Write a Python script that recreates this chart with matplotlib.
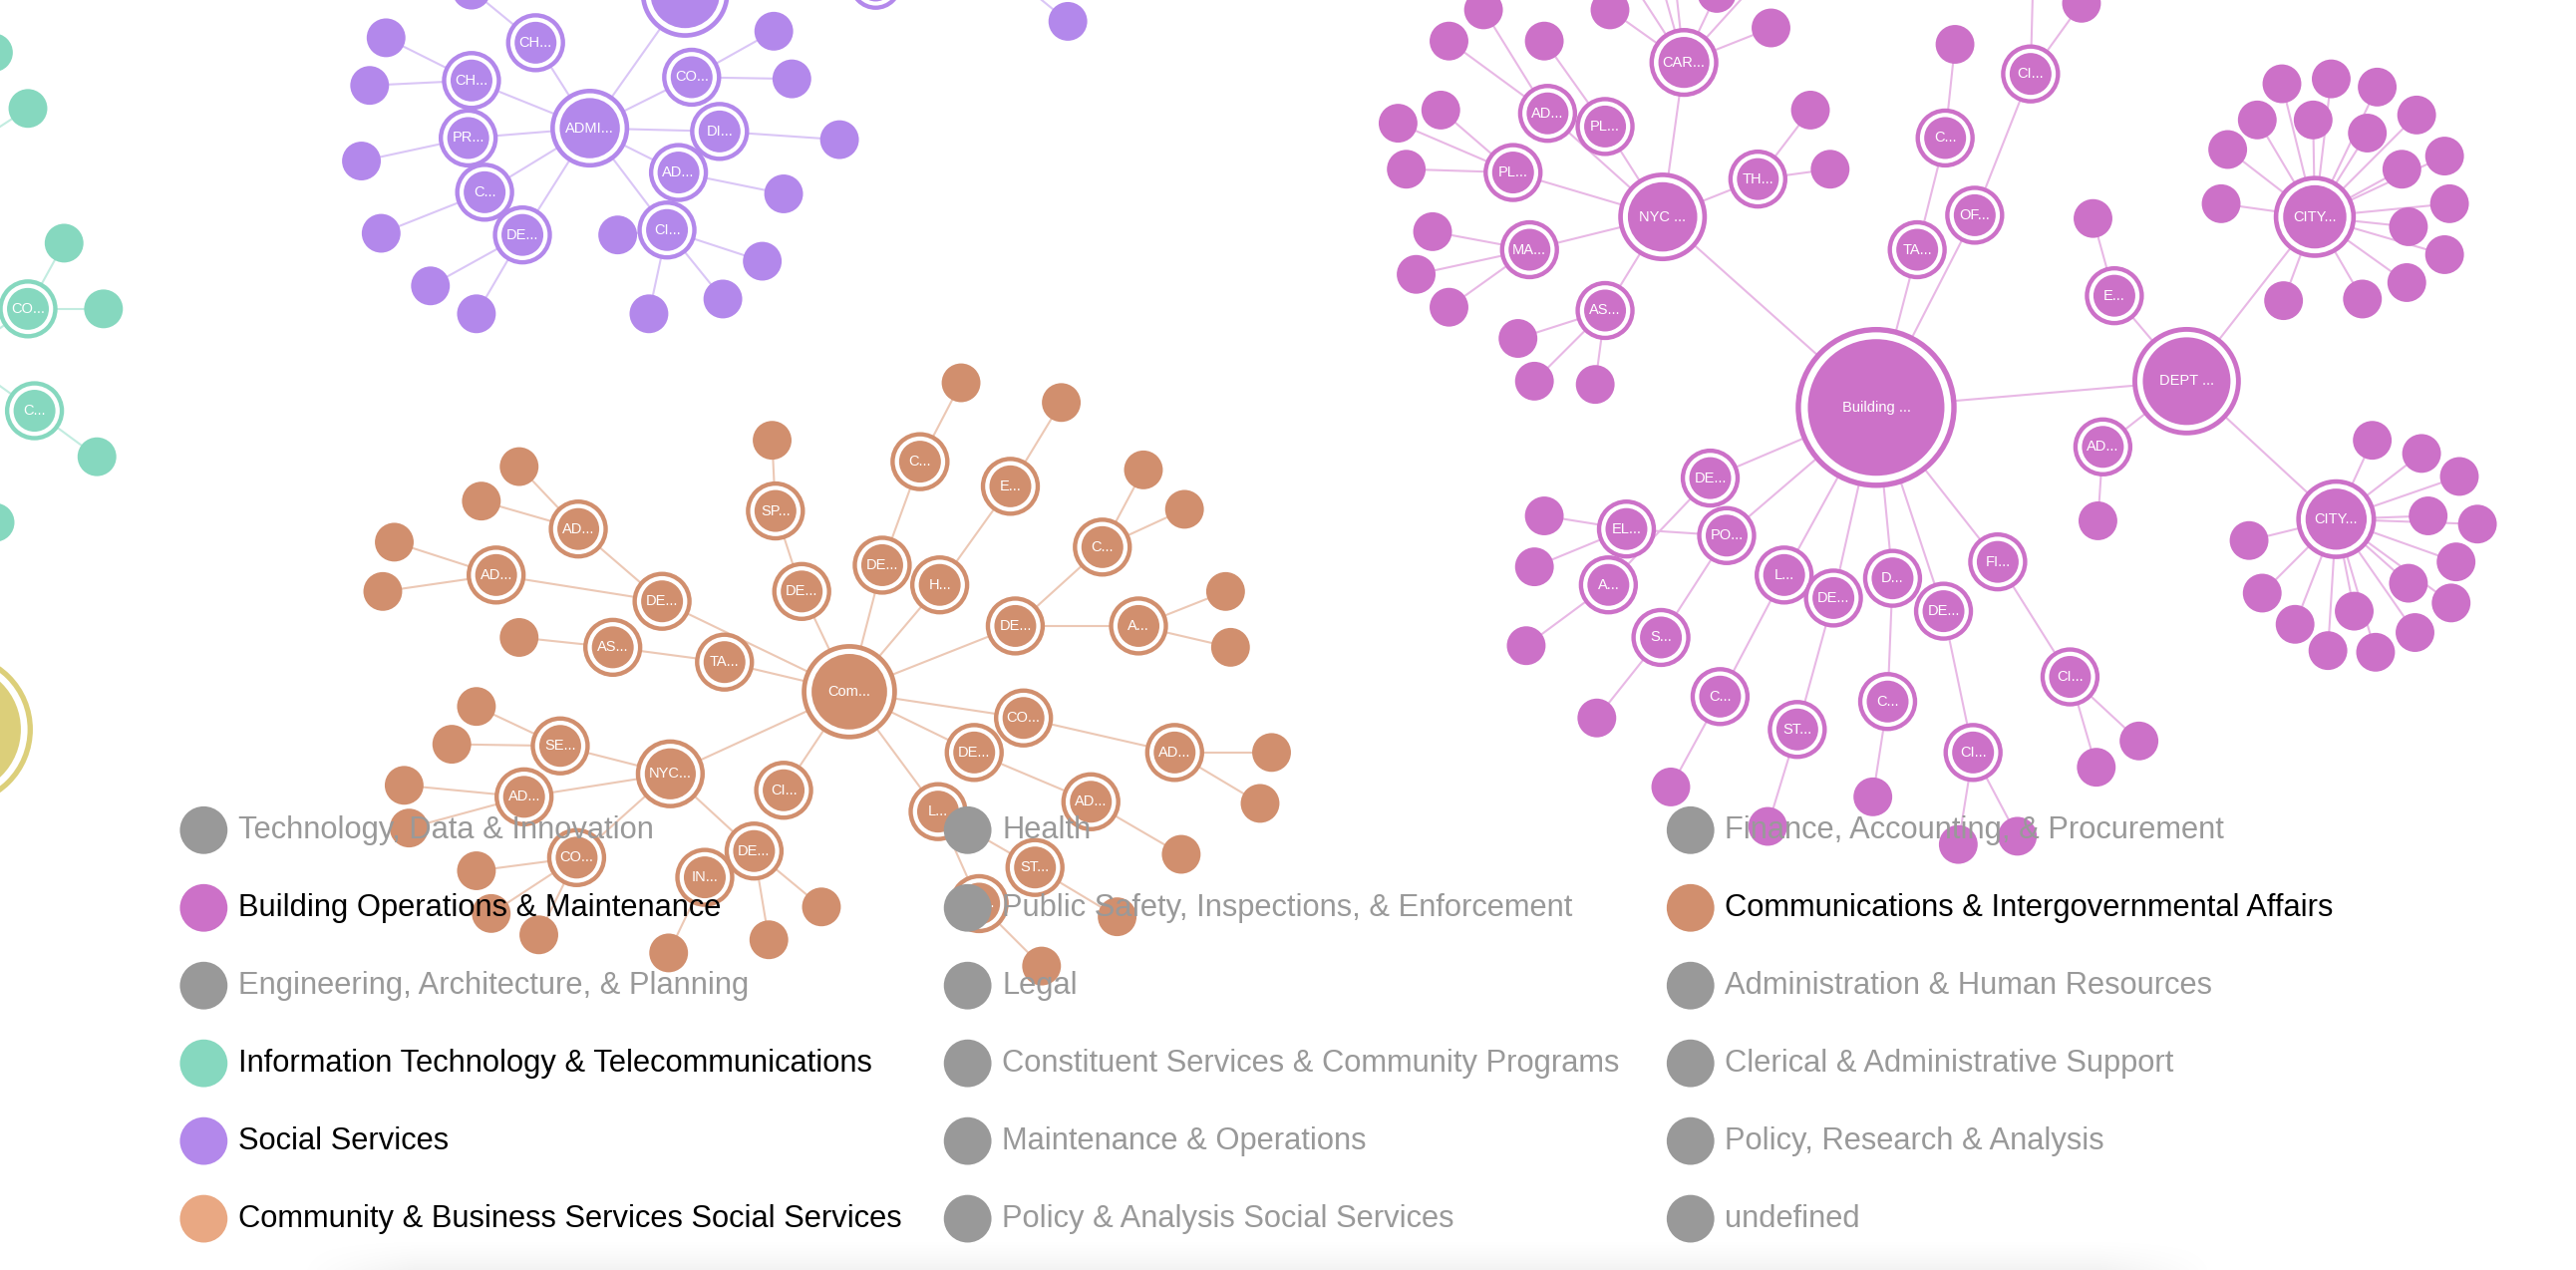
import numpy as np
import matplotlib.pyplot as plt
from matplotlib.patches import Circle

# canvas in layout units (the force layout's own coordinates)
W, H = 1568, 773

# ---------------------------------------------------------------- data ----
# ring nodes: (key, label, x, y, parent)   leaves: (x, y, parent)

building_nodes = [
    ("bld", "Building ...", 1142, 248, None),
    ("dept", "DEPT ...", 1331, 232, "bld"),
    ("nyc", "NYC ...", 1012, 132, "bld"),
    ("car", "CAR...", 1025, 38, "nyc"),
    ("ad1", "AD...", 942, 69, "nyc"),
    ("pl1", "PL...", 977, 77, "nyc"),
    ("pl2", "PL...", 921, 105, "nyc"),
    ("ma", "MA...", 931, 152, "nyc"),
    ("as", "AS...", 977, 189, "nyc"),
    ("th", "TH...", 1070, 109, "nyc"),
    ("of", "OF...", 1202, 131, "bld"),
    ("ci1", "CI...", 1236, 45, "of"),
    ("ta", "TA...", 1167, 152, "bld"),
    ("c1", "C...", 1184, 84, "ta"),
    ("e", "E...", 1287, 180, "dept"),
    ("ad2", "AD...", 1280, 272, "dept"),
    ("city1", "CITY...", 1409, 132, "dept"),
    ("city2", "CITY...", 1422, 316, "dept"),
    ("de1", "DE...", 1041, 291, "bld"),
    ("po", "PO...", 1051, 326, "bld"),
    ("el", "EL...", 990, 322, "po"),
    ("a", "A...", 979, 356, "de1"),
    ("s", "S...", 1011, 388, "po"),
    ("l", "L...", 1086, 350, "bld"),
    ("de2", "DE...", 1116, 364, "bld"),
    ("d", "D...", 1152, 352, "bld"),
    ("de3", "DE...", 1183, 372, "bld"),
    ("fi", "FI...", 1216, 342, "bld"),
    ("c2", "C...", 1047, 424, "l"),
    ("st", "ST...", 1094, 444, "de2"),
    ("c3", "C...", 1149, 427, "d"),
    ("ci2", "CI...", 1201, 458, "de3"),
    ("ci3", "CI...", 1260, 412, "fi"),
]
building_leaves = [
    (980, 6, "car"), (1078, 17, "car"), (990, -16, "car"), (1008, -22, "car"),
    (1018, -26, "car"), (1045, -4, "car"), (1073, -15, "car"),
    (903, 6, "ad1"), (882, 25, "ad1"),
    (940, 25, "pl1"),
    (851, 75, "pl2"), (877, 67, "pl2"), (856, 103, "pl2"),
    (872, 141, "ma"), (862, 167, "ma"), (882, 187, "ma"),
    (924, 206, "as"), (934, 232, "as"), (971, 234, "as"),
    (1102, 67, "th"), (1114, 103, "th"),
    (1267, 2, "ci1"), (1238, -30, "ci1"),
    (1190, 27, "c1"),
    (1274, 133, "e"),
    (1277, 317, "ad2"),
    (1389, 51, "city1"), (1419, 48, "city1"), (1447, 53, "city1"),
    (1471, 70, "city1"), (1374, 73, "city1"), (1408, 73, "city1"),
    (1441, 81, "city1"), (1356, 91, "city1"), (1462, 103, "city1"),
    (1488, 95, "city1"), (1352, 124, "city1"), (1491, 124, "city1"),
    (1466, 138, "city1"), (1488, 155, "city1"), (1465, 172, "city1"),
    (1390, 183, "city1"), (1438, 182, "city1"),
    (1444, 268, "city2"), (1474, 276, "city2"), (1497, 290, "city2"),
    (1369, 329, "city2"), (1478, 314, "city2"), (1508, 319, "city2"),
    (1495, 342, "city2"), (1377, 361, "city2"), (1466, 355, "city2"),
    (1492, 367, "city2"), (1397, 380, "city2"), (1433, 372, "city2"),
    (1470, 385, "city2"), (1417, 396, "city2"), (1446, 397, "city2"),
    (940, 314, "el"), (934, 345, "el"),
    (929, 393, "a"),
    (972, 437, "s"),
    (1017, 479, "c2"),
    (1076, 503, "st"),
    (1140, 485, "c3"),
    (1192, 514, "ci2"), (1228, 509, "ci2"),
    (1276, 467, "ci3"), (1302, 451, "ci3"),
]

comms_nodes = [
    ("com", "Com...", 517, 421, None),
    ("ta", "TA...", 441, 403, "com"),
    ("as", "AS...", 373, 394, "ta"),
    ("de1", "DE...", 403, 366, "com"),
    ("ad1", "AD...", 352, 322, "de1"),
    ("ad2", "AD...", 302, 350, "de1"),
    ("de2", "DE...", 488, 360, "com"),
    ("sp", "SP...", 472, 311, "de2"),
    ("de3", "DE...", 537, 344, "com"),
    ("c1", "C...", 560, 281, "de3"),
    ("h", "H...", 572, 356, "com"),
    ("e", "E...", 615, 296, "h"),
    ("de4", "DE...", 618, 381, "com"),
    ("c2", "C...", 671, 333, "de4"),
    ("a", "A...", 693, 381, "de4"),
    ("co1", "CO...", 623, 437, "com"),
    ("ad3", "AD...", 715, 458, "co1"),
    ("de5", "DE...", 593, 458, "com"),
    ("ad4", "AD...", 664, 488, "de5"),
    ("nyc", "NYC...", 408, 471, "com"),
    ("se", "SE...", 341, 454, "nyc"),
    ("ad5", "AD...", 319, 485, "nyc"),
    ("co2", "CO...", 351, 522, "nyc"),
    ("ci", "CI...", 477, 481, "com"),
    ("de6", "DE...", 459, 518, "nyc"),
    ("in", "IN...", 429, 534, "de6"),
    ("l", "L...", 571, 494, "com"),
    ("st", "ST...", 630, 528, "l"),
    ("de7", "DE...", 596, 550, "l"),
]
comms_leaves = [
    (316, 284, "ad1"), (293, 305, "ad1"),
    (240, 330, "ad2"), (233, 360, "ad2"),
    (316, 388, "as"),
    (470, 268, "sp"),
    (585, 233, "c1"),
    (646, 245, "e"),
    (696, 286, "c2"), (721, 310, "c2"),
    (746, 360, "a"), (749, 394, "a"),
    (774, 458, "ad3"), (767, 489, "ad3"),
    (719, 520, "ad4"),
    (290, 430, "se"), (275, 453, "se"),
    (246, 478, "ad5"), (249, 504, "ad5"),
    (290, 530, "co2"), (299, 556, "co2"), (328, 569, "co2"),
    (407, 580, "in"),
    (500, 552, "de6"), (468, 572, "de6"),
    (680, 558, "st"),
    (634, 588, "de7"),
]

social_nodes = [
    ("big", "", 417, -4, None),
    ("top", "", 533, -10, None),
    ("off", "", 585, -40, None),
    ("admi", "ADMI...", 359, 78, "big"),
    ("ch1", "CH...", 326, 26, "admi"),
    ("ch2", "CH...", 287, 49, "admi"),
    ("pr", "PR...", 285, 84, "admi"),
    ("c", "C...", 295, 117, "admi"),
    ("de", "DE...", 318, 143, "admi"),
    ("co", "CO...", 421, 47, "admi"),
    ("di", "DI...", 438, 80, "admi"),
    ("ad", "AD...", 413, 105, "admi"),
    ("ci", "CI...", 406, 140, "admi"),
]
social_leaves = [
    (287, -6, "ch1"),
    (235, 23, "ch2"), (225, 52, "ch2"),
    (220, 98, "pr"),
    (232, 142, "c"),
    (262, 174, "de"), (290, 191, "de"),
    (471, 19, "co"), (482, 48, "co"),
    (511, 85, "di"),
    (477, 118, "ad"),
    (376, 143, "ci"), (395, 191, "ci"), (440, 182, "ci"), (464, 159, "ci"),
    (650, 13, "off"),
]

it_nodes = [
    ("hub", "", -25, 217, None),
    ("hub2", "", -32, 98, None),
    ("co", "CO...", 17, 188, "hub"),
    ("c", "C...", 21, 250, "hub"),
]
it_leaves = [
    (39, 148, "co"), (63, 188, "co"),
    (59, 278, "c"),
    (17, 66, "hub2"), (-4, 32, "hub2"),
    (-3, 318, None),
]

other_nodes = [("hub", "", -27, 444, None)]
other_leaves = []

# non-default node radii (larger branches)
node_radius = {
    ("building", "bld"): 49, ("building", "dept"): 33, ("building", "nyc"): 27,
    ("building", "car"): 21, ("building", "city1"): 25, ("building", "city2"): 24.3,
    ("comms", "com"): 29, ("comms", "nyc"): 21,
    ("social", "big"): 27, ("social", "top"): 16, ("social", "admi"): 24,
    ("it", "hub"): 20, ("it", "hub2"): 20,
    ("other", "hub"): 47,
}

legend_cols = [
    ["Technology, Data & Innovation", "Building Operations & Maintenance",
     "Engineering, Architecture, & Planning",
     "Information Technology & Telecommunications", "Social Services",
     "Community & Business Services Social Services"],
    ["Health", "Public Safety, Inspections, & Enforcement", "Legal",
     "Constituent Services & Community Programs", "Maintenance & Operations",
     "Policy & Analysis Social Services"],
    ["Finance, Accounting, & Procurement",
     "Communications & Intergovernmental Affairs",
     "Administration & Human Resources", "Clerical & Administrative Support",
     "Policy, Research & Analysis", "undefined"],
]
legend_active = {
    "Building Operations & Maintenance": "#cc71c8",
    "Information Technology & Telecommunications": "#86d8bf",
    "Social Services": "#b388eb",
    "Community & Business Services Social Services": "#e9a883",
    "Communications & Intergovernmental Affairs": "#d18f6e",
}

# ---------------------------------------------------------------- style ---
GROUPS = [
    ("other", other_nodes, other_leaves, "#dccf7a", "#ece3ae"),
    ("it", it_nodes, it_leaves, "#86d8bf", "#c2ece0"),
    ("social", social_nodes, social_leaves, "#b388eb", "#dac6f6"),
    ("comms", comms_nodes, comms_leaves, "#d18f6e", "#ecc8b5"),
    ("building", building_nodes, building_leaves, "#cc71c8", "#e8b8e5"),
]
RING_R = 18.0
LEAF_R = 11.8
FONT = ["Liberation Sans", "DejaVu Sans"]

plt.rcParams["font.family"] = FONT

fig = plt.figure(figsize=(25.84, 12.74), dpi=100)
ax = fig.add_axes([0, 0, 1, 1])
ax.set_xlim(0, W)
ax.set_ylim(H, 0)
ax.axis("off")


def ring(x, y, R, color, z):
    lw = 2.3 + 0.02 * R
    inner = R - (4.0 + 0.07 * R)
    ax.add_patch(Circle((x, y), R, fc=color, ec="none", zorder=z))
    ax.add_patch(Circle((x, y), R - lw, fc="white", ec="none", zorder=z))
    ax.add_patch(Circle((x, y), inner, fc=color, ec="none", zorder=z))


for gname, nodes, leaves, color, ecolor in GROUPS:
    pos = {k: (x, y) for k, _, x, y, _ in nodes}
    # links
    for k, _, x, y, parent in nodes:
        if parent:
            px, py = pos[parent]
            ax.plot([x, px], [y, py], color=ecolor, lw=1.5, zorder=1,
                    solid_capstyle="butt")
    for x, y, parent in leaves:
        if parent:
            px, py = pos[parent]
            ax.plot([x, px], [y, py], color=ecolor, lw=1.5, zorder=1,
                    solid_capstyle="butt")
    # nodes
    for x, y, _ in leaves:
        ax.add_patch(Circle((x, y), LEAF_R, fc=color, ec="none", zorder=2))
    for k, label, x, y, _ in nodes:
        R = node_radius.get((gname, k), RING_R)
        ring(x, y, R, color, 2)
        if label:
            ax.text(x, y, label, color="white", fontsize=10.5,
                    ha="center", va="center", zorder=3)

# legend
leg_x = [124, 589, 1029]
leg_y = [505.3, 552.6, 599.9, 647.2, 694.5, 741.8]
for cx, col in zip(leg_x, legend_cols):
    for cy, name in zip(leg_y, col):
        c = legend_active.get(name)
        ax.add_patch(Circle((cx, cy), 14.5, fc=c or "#999999", ec="none",
                            zorder=5))
        ax.text(cx + 21, cy, name, color="black" if c else "#999999",
                fontsize=22.2, ha="left", va="center", zorder=6)

# soft shadow of the legend panel at the bottom edge
ny, nx = 40, 400
yy = np.linspace(0, 1, ny)[:, None]
xx = np.linspace(0, 1, nx)[None, :]
edge = np.clip(np.minimum(xx, 1 - xx) / 0.06, 0, 1)
alpha = 0.05 * (yy ** 1.5) * edge
img = np.zeros((ny, nx, 4))
img[..., 3] = alpha
ax.imshow(img, extent=(180, 1350, 773, 752), aspect="auto", zorder=4,
          interpolation="bilinear")
ax.set_xlim(0, W)
ax.set_ylim(H, 0)

fig.savefig("out.png", dpi=100)
